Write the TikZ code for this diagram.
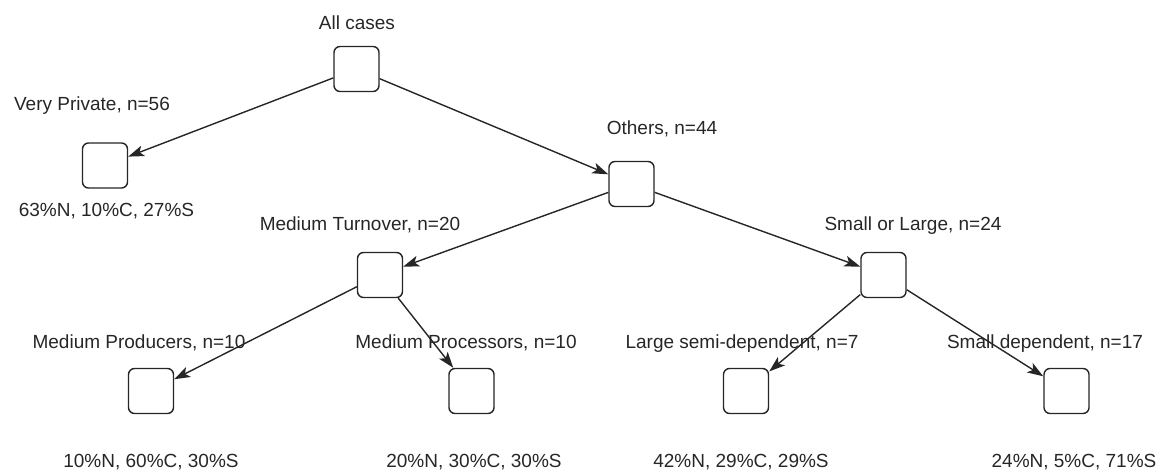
\documentclass[tikz,border=0pt]{standalone}
\usepackage{fontspec}
\setmainfont{Liberation Sans}
\usetikzlibrary{arrows.meta}
\tikzset{
  box/.style={draw=black!85, line width=1.4pt, rounded corners=6pt, minimum width=45pt, minimum height=45pt, inner sep=0pt, fill=white},
  lbl/.style={anchor=base, inner sep=0pt, font=\fontsize{19}{23}\selectfont, text=black!85},
  edge/.style={draw=black!85, line width=1.4pt, -{Stealth[length=16pt,width=11pt,inset=4pt]}}
}
\begin{document}
\begin{tikzpicture}[x=1pt,y=-1pt]
\useasboundingbox (0,0) rectangle (1161,473);
% boxes
\node[box] (root) at (356.5,69) {};
\node[box] (vp) at (105,165.5) {};
\node[box] (oth) at (631.5,184) {};
\node[box] (mt) at (380,275) {};
\node[box] (sl) at (883.5,275) {};
\node[box] (mp) at (151,391) {};
\node[box] (mpr) at (471.5,391) {};
\node[box] (lsd) at (746,391) {};
\node[box] (sd) at (1066.5,391) {};
% labels
\node[lbl] (troot) at (357,29.6) {All cases};
\node[lbl] (tvp) at (92,110.6) {Very Private, n=56};
\node[lbl] (toth) at (662,134.6) {Others, n=44};
\node[lbl] (tmt) at (360,230.5) {Medium Turnover, n=20};
\node[lbl] (tsl) at (913,230.5) {Small or Large, n=24};
\node[lbl] (tmp) at (139,348.6) {Medium Producers, n=10};
\node[lbl] (tmpr) at (466,348.6) {Medium Processors, n=10};
\node[lbl] (tlsd) at (742,348.6) {Large semi-dependent, n=7};
\node[lbl] (tsd) at (1045,348.6) {Small dependent, n=17};
\node[lbl] (pvp) at (106.5,216) {63\%N, 10\%C, 27\%S};
\node[lbl] (pmp) at (151,467.5) {10\%N, 60\%C, 30\%S};
\node[lbl] (pmpr) at (474,467.5) {20\%N, 30\%C, 30\%S};
\node[lbl] (plsd) at (741,467.5) {42\%N, 29\%C, 29\%S};
\node[lbl] (psd) at (1074,467.5) {24\%N, 5\%C, 71\%S};
% edges
\draw[edge] (root) -- (vp);
\draw[edge] (root) -- (oth);
\draw[edge] (oth) -- (mt);
\draw[edge] (oth) -- (sl);
\draw[edge] (mt) -- (mp);
\draw[edge] (mt) -- (mpr);
\draw[edge] (sl) -- (lsd);
\draw[edge] (sl) -- (sd);
\end{tikzpicture}
\end{document}
